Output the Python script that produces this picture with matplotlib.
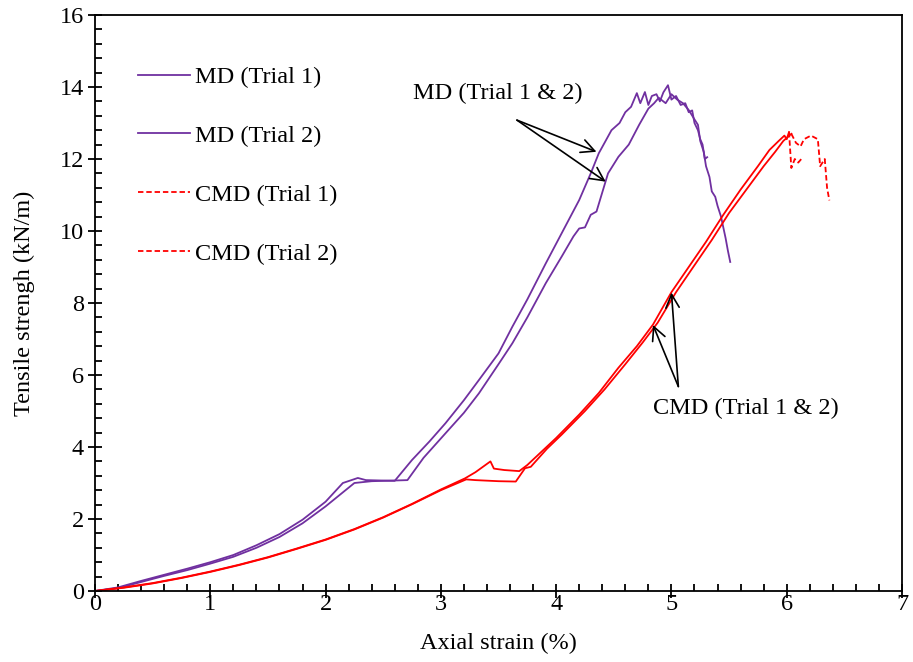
import matplotlib
matplotlib.use("Agg")
import matplotlib.pyplot as plt
from matplotlib.lines import Line2D
from matplotlib.ticker import MultipleLocator

plt.rcParams['font.family'] = ['Liberation Serif', 'DejaVu Serif']

# ---------------- data ----------------
md1_x = [0.0, 0.2, 0.4, 0.6, 0.8, 1.0, 1.2, 1.4, 1.6, 1.8, 2.0, 2.15, 2.28, 2.35, 2.6,
         2.75, 2.9, 3.04, 3.2, 3.33, 3.5, 3.62, 3.75, 3.91, 4.05, 4.2, 4.3, 4.37, 4.42,
         4.48, 4.55, 4.6, 4.65, 4.7, 4.73, 4.77, 4.8, 4.83, 4.87, 4.9, 4.93, 4.97, 5.0,
         5.04, 5.08, 5.12, 5.15, 5.18, 5.2, 5.23, 5.25, 5.27, 5.29, 5.31]
md1_y = [0.0, 0.1, 0.28, 0.45, 0.62, 0.8, 1.0, 1.27, 1.58, 1.98, 2.48, 3.0, 3.14, 3.08, 3.06,
         3.64, 4.15, 4.66, 5.3, 5.86, 6.6, 7.34, 8.1, 9.1, 9.95, 10.86, 11.6, 12.16, 12.45,
         12.8, 13.0, 13.3, 13.45, 13.83, 13.55, 13.86, 13.5, 13.75, 13.8, 13.6, 13.85, 14.05, 13.65,
         13.75, 13.5, 13.55, 13.3, 13.35, 13.0, 12.8, 12.55, 12.4, 12.0, 12.05]

md2_x = [0.0, 0.2, 0.4, 0.6, 0.8, 1.0, 1.2, 1.4, 1.6, 1.8, 2.0, 2.25, 2.4, 2.71,
         2.85, 3.04, 3.2, 3.33, 3.5, 3.62, 3.75, 3.91, 4.05, 4.15, 4.2, 4.25, 4.3, 4.35,
         4.45, 4.54, 4.63, 4.72, 4.8, 4.85, 4.89, 4.95, 5.0, 5.05, 5.1, 5.15, 5.2, 5.23,
         5.25, 5.28, 5.3, 5.33, 5.35, 5.38, 5.4, 5.43, 5.45, 5.47, 5.49, 5.51]
md2_y = [0.0, 0.08, 0.25, 0.42, 0.58, 0.76, 0.95, 1.2, 1.5, 1.88, 2.35, 3.0, 3.05, 3.08,
         3.7, 4.38, 4.95, 5.49, 6.3, 6.88, 7.6, 8.55, 9.3, 9.85, 10.07, 10.1, 10.45, 10.54,
         11.6, 12.06, 12.4, 12.95, 13.4, 13.55, 13.7, 13.55, 13.8, 13.65, 13.55, 13.36, 13.1, 12.95,
         12.5, 12.2, 11.8, 11.5, 11.1, 10.95, 10.7, 10.4, 10.1, 9.8, 9.45, 9.14]

cmd1_x = [0.0, 0.25, 0.5, 0.75, 1.0, 1.25, 1.5, 1.75, 2.0, 2.25, 2.5, 2.75, 3.0, 3.21,
          3.3, 3.43, 3.46, 3.55, 3.68, 3.75, 3.9, 4.0, 4.2, 4.37, 4.54, 4.7, 4.84, 5.0,
          5.15, 5.3, 5.45, 5.6, 5.75, 5.85, 5.93, 5.98, 6.0, 6.02,
          6.04, 6.07, 6.1, 6.14]
cmd1_y = [0.0, 0.1, 0.22, 0.37, 0.54, 0.73, 0.94, 1.18, 1.43, 1.72, 2.05, 2.42, 2.82, 3.13,
          3.3, 3.6, 3.4, 3.36, 3.33, 3.5, 3.95, 4.25, 4.9, 5.5, 6.2, 6.8, 7.4, 8.3,
          9.0, 9.7, 10.45, 11.15, 11.8, 12.25, 12.5, 12.65, 12.55, 12.75,
          11.75, 12.0, 11.9, 12.05]

cmd2_x = [0.0, 0.25, 0.5, 0.75, 1.0, 1.25, 1.5, 1.75, 2.0, 2.25, 2.5, 2.75, 3.0, 3.22,
          3.3, 3.5, 3.65, 3.73, 3.78, 3.92, 4.05, 4.25, 4.42, 4.6, 4.75, 4.88, 5.04,
          5.2, 5.35, 5.5, 5.65, 5.8, 5.9, 5.97, 6.04,
          6.08, 6.12, 6.15, 6.21, 6.27, 6.29, 6.33, 6.35, 6.37]
cmd2_y = [0.0, 0.09, 0.21, 0.36, 0.53, 0.72, 0.93, 1.17, 1.42, 1.71, 2.04, 2.41, 2.8, 3.1,
          3.08, 3.05, 3.04, 3.41, 3.45, 3.95, 4.35, 5.0, 5.6, 6.3, 6.9, 7.45, 8.3,
          9.05, 9.75, 10.5, 11.15, 11.8, 12.2, 12.5, 12.7,
          12.45, 12.35, 12.55, 12.65, 12.55, 11.8, 12.0, 11.2, 10.85]

labels = ['MD (Trial 1)', 'MD (Trial 2)', 'CMD (Trial 1)', 'CMD (Trial 2)']
x_ticks = [0, 1, 2, 3, 4, 5, 6, 7]
y_ticks = [0, 2, 4, 6, 8, 10, 12, 14, 16]

PURPLE = '#7030A0'
RED = '#FF0000'
DASH = (0, (3, 1.6))
FS = 17.5

# ---------------- figure ----------------
fig = plt.figure(figsize=(9.13, 6.62), dpi=100)
ax = fig.add_axes([95/913, 1-591/662, (902-95)/913, (591-15)/662])

lw = 1.3
ax.plot(md1_x, md1_y, color=PURPLE, lw=lw)
ax.plot(md2_x, md2_y, color=PURPLE, lw=lw)

def split_plot(xs, ys):
    k = ys.index(max(ys))
    ax.plot(xs[:k+1], ys[:k+1], color=RED, lw=lw)
    ax.plot(xs[k:], ys[k:], color=RED, lw=lw, linestyle=DASH)

split_plot(cmd1_x, cmd1_y)
split_plot(cmd2_x, cmd2_y)

ax.set_xlim(0, 7)
ax.set_ylim(0, 16)
ax.set_xticks(x_ticks)
ax.set_yticks(y_ticks)
ax.xaxis.set_minor_locator(MultipleLocator(0.2))
ax.yaxis.set_minor_locator(MultipleLocator(0.4))
ax.tick_params(which='major', direction='inout', length=10, width=1.3, labelsize=FS)
ax.tick_params(which='minor', direction='in', length=5, width=1.3)
ax.tick_params(axis='x', which='major', pad=-3)
ax.tick_params(axis='y', which='major', pad=3)
for s in ax.spines.values():
    s.set_linewidth(1.3)

ax.set_xlabel('Axial strain (%)', fontsize=FS, labelpad=13)
ax.set_ylabel('Tensile strengh (kN/m)', fontsize=FS, labelpad=18)

# annotations
ap = dict(arrowstyle='->', color='black', lw=1.2, mutation_scale=24, shrinkA=0, shrinkB=0)
ax.text(3.49, 13.83, 'MD (Trial 1 & 2)', fontsize=FS, ha='center', va='center')
ax.annotate('', xy=(4.35, 12.2), xytext=(3.66, 13.08), arrowprops=ap)
ax.annotate('', xy=(4.43, 11.37), xytext=(3.66, 13.08), arrowprops=ap)
ax.text(5.65, 5.08, 'CMD (Trial 1 & 2)', fontsize=FS, ha='center', va='center')
ax.annotate('', xy=(4.84, 7.39), xytext=(5.06, 5.68), arrowprops=ap)
ax.annotate('', xy=(5.0, 8.29), xytext=(5.06, 5.68), arrowprops=ap)

handles = [Line2D([], [], color=PURPLE, lw=lw),
           Line2D([], [], color=PURPLE, lw=lw),
           Line2D([], [], color=RED, lw=lw, linestyle=DASH),
           Line2D([], [], color=RED, lw=lw, linestyle=DASH)]
ax.legend(handles, labels, loc='upper left', bbox_to_anchor=((138-95)/807, (591-66)/576),
          frameon=False, fontsize=FS, handlelength=2.14, handletextpad=0.22,
          labelspacing=1.52, borderpad=0, borderaxespad=0)

fig.savefig('out.png', dpi=100)
